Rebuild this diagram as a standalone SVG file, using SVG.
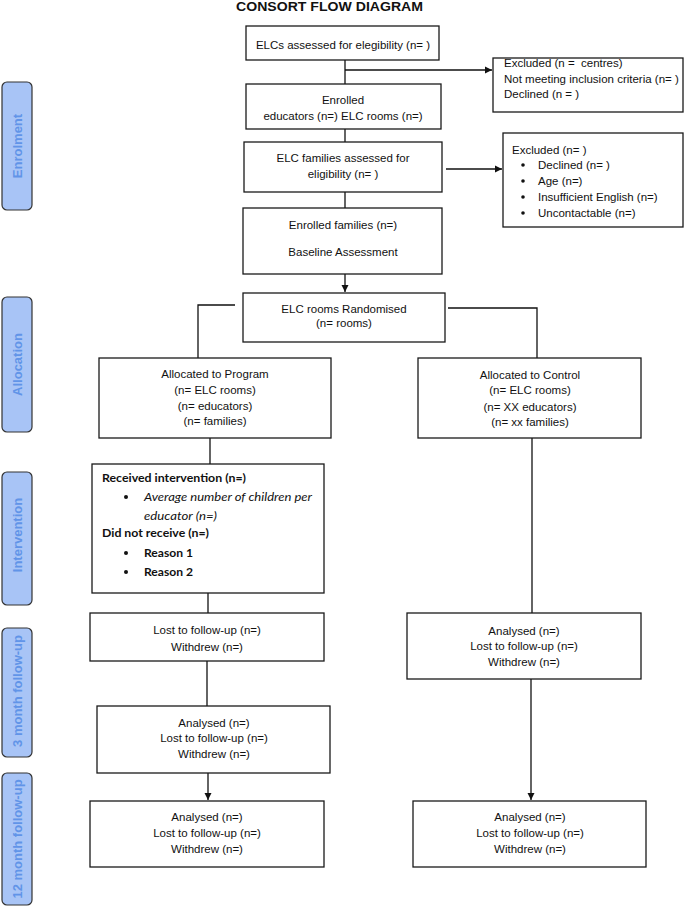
<svg xmlns="http://www.w3.org/2000/svg" width="685" height="907" viewBox="0 0 685 907">
<defs>
<marker id="ah" markerWidth="8" markerHeight="8" refX="7" refY="4" orient="auto" markerUnits="userSpaceOnUse">
<path d="M0,0.5 L7,4 L0,7.5 Z" fill="#111"/>
</marker>
<style>
.box{fill:#fff;stroke:#1a1a1a;stroke-width:1.3}
.lane{fill:#a8c4f6;stroke:#333;stroke-width:1.2}
.lt{font-family:"Liberation Sans",Arial,sans-serif;font-size:13px;font-weight:bold;fill:#6194e8;text-anchor:middle}
.t{font-family:"Liberation Sans",Arial,sans-serif;font-size:11.5px;fill:#111}
.c{text-anchor:middle}
.cal{font-family:"Lato","Liberation Sans",sans-serif;font-size:11.5px;fill:#111}
.b{font-weight:bold}
.i{font-style:italic}
.ln{fill:none;stroke:#111;stroke-width:1.3}
</style>
</defs>
<rect width="685" height="907" fill="#fff"/>
<text x="329.5" y="10.5" font-family="Liberation Sans,Arial,sans-serif" font-size="13.5" font-weight="bold" text-anchor="middle" textLength="187" lengthAdjust="spacingAndGlyphs" fill="#111">CONSORT FLOW DIAGRAM</text>

<g id="lanes">
<g id="lane-enrolment"><rect class="lane" x="2" y="82" width="30" height="128" rx="5"/><text class="lt" transform="translate(17,146) rotate(-90)" y="4.5">Enrolment</text></g>
<g id="lane-allocation"><rect class="lane" x="2" y="297" width="30" height="135" rx="5"/><text class="lt" transform="translate(17,364.5) rotate(-90)" y="4.5">Allocation</text></g>
<g id="lane-intervention"><rect class="lane" x="2" y="472" width="30" height="133" rx="5"/><text class="lt" transform="translate(17,535) rotate(-90)" y="4.5">Intervention</text></g>
<g id="lane-3month"><rect class="lane" x="2" y="628" width="30" height="129" rx="5"/><text class="lt" transform="translate(17,691) rotate(-90)" y="4.5">3 month follow-up</text></g>
<g id="lane-12month"><rect class="lane" x="2" y="773" width="30" height="132" rx="5"/><text class="lt" transform="translate(17,839) rotate(-90)" y="4.5">12 month follow-up</text></g>
</g>

<g id="connectors">
<path class="ln" d="M345,60 V84"/>
<path class="ln" d="M345,70 H492" marker-end="url(#ah)"/>
<path class="ln" d="M345,129 V142"/>
<path class="ln" d="M446,169 H502" marker-end="url(#ah)"/>
<path class="ln" d="M345,192 V208"/>
<path class="ln" d="M345,274 V292" marker-end="url(#ah)"/>
<path class="ln" d="M235,305 H198 V358"/>
<path class="ln" d="M448,308 H537 V358"/>
<path class="ln" d="M210,438 V464"/>
<path class="ln" d="M208,593 V613"/>
<path class="ln" d="M207,661 V706"/>
<path class="ln" d="M208,773 V800" marker-end="url(#ah)"/>
<path class="ln" d="M532,438 V613"/>
<path class="ln" d="M531,679 V800" marker-end="url(#ah)"/>
</g>

<g id="n-assessed"><rect class="box" x="246" y="26" width="193" height="34"/><text class="t c" x="343" y="49">ELCs assessed for elegibility (n= )</text></g>

<g id="n-excluded1"><rect class="box" x="493" y="58" width="190" height="54"/>
<text class="t" x="504" y="67" xml:space="preserve">Excluded (n =  centres)</text>
<text class="t" x="504" y="83">Not meeting inclusion criteria (n= )</text>
<text class="t" x="504" y="98">Declined (n = )</text></g>

<g id="n-enrolled"><rect class="box" x="246" y="84" width="195" height="45"/>
<text class="t c" x="343" y="104">Enrolled</text>
<text class="t c" x="343" y="120">educators (n=) ELC rooms (n=)</text></g>

<g id="n-families"><rect class="box" x="244" y="142" width="198" height="50"/>
<text class="t c" x="343" y="162">ELC families assessed for</text>
<text class="t c" x="343" y="178">eligibility (n= )</text></g>

<g id="n-excluded2"><rect class="box" x="503" y="133" width="180" height="94"/>
<text class="t" x="512" y="154">Excluded (n= )</text>
<circle cx="523" cy="165" r="1.8" fill="#111"/><text class="t" x="538" y="169">Declined (n= )</text>
<circle cx="523" cy="181" r="1.8" fill="#111"/><text class="t" x="538" y="185">Age (n=)</text>
<circle cx="523" cy="197" r="1.8" fill="#111"/><text class="t" x="538" y="201">Insufficient English (n=)</text>
<circle cx="523" cy="213" r="1.8" fill="#111"/><text class="t" x="538" y="217">Uncontactable (n=)</text></g>

<g id="n-enrolled-families"><rect class="box" x="243" y="208" width="199" height="66"/>
<text class="t c" x="343" y="229">Enrolled families (n=)</text>
<text class="t c" x="343" y="256">Baseline Assessment</text></g>

<g id="n-randomised"><rect class="box" x="243" y="293" width="202" height="49"/>
<text class="t c" x="344" y="313">ELC rooms Randomised</text>
<text class="t c" x="344" y="327">(n= rooms)</text></g>

<g id="n-program"><rect class="box" x="99" y="358" width="232" height="80"/>
<text class="t c" x="215" y="378">Allocated to Program</text>
<text class="t c" x="215" y="394">(n= ELC rooms)</text>
<text class="t c" x="215" y="410">(n= educators)</text>
<text class="t c" x="215" y="425">(n= families)</text></g>

<g id="n-control"><rect class="box" x="418" y="358" width="223" height="80"/>
<text class="t c" x="530" y="379">Allocated to Control</text>
<text class="t c" x="530" y="394">(n= ELC rooms)</text>
<text class="t c" x="530" y="411">(n= XX educators)</text>
<text class="t c" x="530" y="426">(n= xx families)</text></g>

<g id="n-intervention"><rect class="box" x="92" y="464" width="232" height="129"/>
<text class="cal b" x="102" y="482" textLength="144" lengthAdjust="spacingAndGlyphs">Received intervention (n=)</text>
<circle cx="126" cy="497" r="2" fill="#111"/>
<text class="cal i" x="144" y="501" textLength="168" lengthAdjust="spacingAndGlyphs">Average number of children per</text>
<text class="cal i" x="144" y="520" textLength="73" lengthAdjust="spacingAndGlyphs">educator (n=)</text>
<text class="cal b" x="102" y="537" textLength="107" lengthAdjust="spacingAndGlyphs">Did not receive (n=)</text>
<circle cx="126" cy="553" r="2" fill="#111"/>
<text class="cal b" x="144" y="557" textLength="49" lengthAdjust="spacingAndGlyphs">Reason 1</text>
<circle cx="126" cy="572" r="2" fill="#111"/>
<text class="cal b" x="144" y="576" textLength="49" lengthAdjust="spacingAndGlyphs">Reason 2</text></g>

<g id="n-lost-3m"><rect class="box" x="90" y="613" width="234" height="48"/>
<text class="t c" x="207" y="634">Lost to follow-up (n=)</text>
<text class="t c" x="207" y="651">Withdrew (n=)</text></g>

<g id="n-analysed-3m-program"><rect class="box" x="97" y="706" width="233" height="67"/>
<text class="t c" x="214" y="727">Analysed (n=)</text>
<text class="t c" x="214" y="742">Lost to follow-up (n=)</text>
<text class="t c" x="214" y="758">Withdrew (n=)</text></g>

<g id="n-analysed-3m-control"><rect class="box" x="407" y="613" width="234" height="66"/>
<text class="t c" x="524" y="635">Analysed (n=)</text>
<text class="t c" x="524" y="650">Lost to follow-up (n=)</text>
<text class="t c" x="524" y="666">Withdrew (n=)</text></g>

<g id="n-analysed-12m-program"><rect class="box" x="90" y="801" width="234" height="66"/>
<text class="t c" x="207" y="821">Analysed (n=)</text>
<text class="t c" x="207" y="837">Lost to follow-up (n=)</text>
<text class="t c" x="207" y="853">Withdrew (n=)</text></g>

<g id="n-analysed-12m-control"><rect class="box" x="413" y="801" width="233" height="66"/>
<text class="t c" x="530" y="821">Analysed (n=)</text>
<text class="t c" x="530" y="837">Lost to follow-up (n=)</text>
<text class="t c" x="530" y="853">Withdrew (n=)</text></g>
</svg>
